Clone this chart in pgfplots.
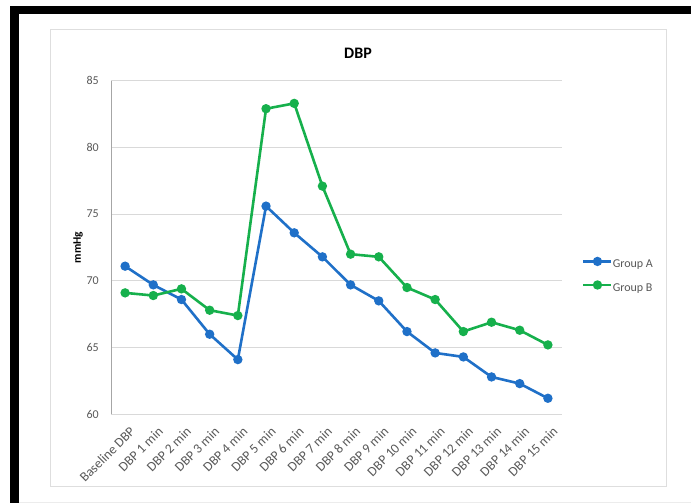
\documentclass[border=0pt]{standalone}
\usepackage{fontspec}
\setmainfont{Carlito}
\usepackage{pgfplots}
\pgfplotsset{compat=1.18}

\definecolor{grpA}{RGB}{31,112,200}
\definecolor{grpB}{RGB}{22,176,76}
\definecolor{gridgray}{RGB}{217,217,217}
\definecolor{axisgray}{RGB}{166,166,166}
\definecolor{labelgray}{RGB}{89,89,89}
\definecolor{framegray}{RGB}{222,222,222}

\begin{document}
\begin{tikzpicture}
  \path[use as bounding box, fill=white] (0pt,0pt) rectangle (691pt,503pt);
  % page edge
  \fill[black] (10pt,489pt) rectangle (691pt,497pt);
  \fill[black] (10pt,0pt) rectangle (19pt,497pt);
  \draw[gray!15, line width=0.8pt] (19pt,1pt) -- (691pt,1pt);
  % chart area frame
  \draw[framegray, line width=1pt] (50pt,16pt) rectangle (666pt,473pt);
  % title
  \node[font=\fontsize{16}{19}\selectfont\bfseries] at (358pt,450pt) {DBP};

  \begin{axis}[
    at={(111pt,88.7pt)}, anchor=south west,
    scale only axis, width=451pt, height=333.6pt,
    xmin=-0.5, xmax=15.5, ymin=60, ymax=85,
    xtick={0,...,15},
    xticklabels={Baseline DBP, DBP 1 min, DBP 2 min, DBP 3 min, DBP 4 min,
      DBP 5 min, DBP 6 min, DBP 7 min, DBP 8 min, DBP 9 min, DBP 10 min,
      DBP 11 min, DBP 12 min, DBP 13 min, DBP 14 min, DBP 15 min},
    ytick={60,65,70,75,80,85},
    axis x line*=bottom, axis y line*=left,
    axis line style={-},
    x axis line style={draw=gridgray, line width=1pt},
    y axis line style={draw=axisgray, line width=1pt},
    ymajorgrids, grid style={gridgray, line width=1pt},
    major tick length=0pt,
    tick style={draw=none},
    /pgf/number format/assume math mode=true,
    ticklabel style={font=\fontsize{12}{14}\selectfont, text=labelgray},
    xticklabel style={rotate=45, anchor=north east, inner sep=0pt,
      xshift=-5pt, yshift=-10.6pt, font=\fontsize{13.5}{15}\selectfont},
    yticklabel style={anchor=east, inner sep=0pt, xshift=-12pt},
    ylabel={mmHg},
    ylabel style={at={(axis description cs:0,0.5)}, anchor=center,
      yshift=33pt, font=\fontsize{11.5}{13}\selectfont\bfseries},
    legend style={draw=none, fill=none,
      at={(axis description cs:1.0443,0.414)}, anchor=west,
      inner sep=0pt, row sep=11pt,
      font=\fontsize{12}{14}\selectfont, text=labelgray,
      nodes={inner sep=0pt, text height=8.5pt, text depth=3pt}},
    legend cell align=left,
    /tikz/every even column/.append style={column sep=2pt},
    legend image code/.code={
      \draw[#1, mark repeat=2, mark phase=2]
        plot coordinates {(0pt,3.5pt) (14pt,3.5pt) (28pt,3.5pt)};
    },
    every axis plot/.append style={line width=2.6pt, mark=*,
      mark size=3.3pt, mark options={solid}},
  ]
    \addplot[grpA, mark options={fill=grpA, draw=grpA}] coordinates {
      (0,71.1) (1,69.7) (2,68.6) (3,66.0) (4,64.1) (5,75.6) (6,73.6)
      (7,71.8) (8,69.7) (9,68.5) (10,66.2) (11,64.6) (12,64.3)
      (13,62.8) (14,62.3) (15,61.2)};
    \addlegendentry{Group A}
    \addplot[grpB, mark options={fill=grpB, draw=grpB}] coordinates {
      (0,69.1) (1,68.9) (2,69.4) (3,67.8) (4,67.4) (5,82.9) (6,83.3)
      (7,77.1) (8,72.0) (9,71.8) (10,69.5) (11,68.6) (12,66.2)
      (13,66.9) (14,66.3) (15,65.2)};
    \addlegendentry{Group B}
  \end{axis}
\end{tikzpicture}
\end{document}
